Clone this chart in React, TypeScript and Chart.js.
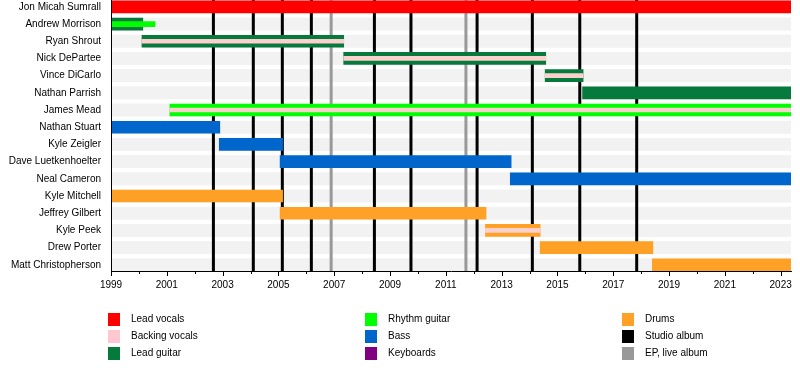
import React, { useEffect, useRef } from 'react';
import { Chart, registerables } from 'chart.js';

Chart.register(...registerables);

const members = [
  'Jon Micah Sumrall',
  'Andrew Morrison',
  'Ryan Shrout',
  'Nick DePartee',
  'Vince DiCarlo',
  'Nathan Parrish',
  'James Mead',
  'Nathan Stuart',
  'Kyle Zeigler',
  'Dave Luetkenhoelter',
  'Neal Cameron',
  'Kyle Mitchell',
  'Jeffrey Gilbert',
  'Kyle Peek',
  'Drew Porter',
  'Matt Christopherson',
];

const START = 1999;
const END = 2023.37;

const yearTicks = [
  1999, 2000, 2001, 2002, 2003, 2004, 2005, 2006, 2007, 2008, 2009, 2010, 2011,
  2012, 2013, 2014, 2015, 2016, 2017, 2018, 2019, 2020, 2021, 2022, 2023,
];

// [member, from, to]
const leadVocals: [string, number, number][] = [['Jon Micah Sumrall', 1999, END]];

const leadGuitar: [string, number, number][] = [
  ['Andrew Morrison', 1999, 2000.14],
  ['Ryan Shrout', 2000.11, 2007.34],
  ['Nick DePartee', 2007.34, 2014.58],
  ['Vince DiCarlo', 2014.56, 2015.92],
  ['Nathan Parrish', 2015.9, END],
];

const rhythmGuitar: [string, number, number][] = [['James Mead', 2001.11, END]];

const rhythmGuitarSecondary: [string, number, number][] = [['Andrew Morrison', 1999, 2000.58]];

const bass: [string, number, number][] = [
  ['Nathan Stuart', 1999, 2002.9],
  ['Kyle Zeigler', 2002.88, 2005.15],
  ['Dave Luetkenhoelter', 2005.06, 2013.34],
  ['Neal Cameron', 2013.31, END],
];

const drums: [string, number, number][] = [
  ['Kyle Mitchell', 1999, 2005.15],
  ['Jeffrey Gilbert', 2005.06, 2012.44],
  ['Kyle Peek', 2012.42, 2014.38],
  ['Drew Porter', 2014.38, 2018.42],
  ['Matt Christopherson', 2018.4, END],
];

const backingVocals: [string, number, number][] = [
  ['Ryan Shrout', 2000.11, 2007.34],
  ['Nick DePartee', 2007.34, 2014.58],
  ['Vince DiCarlo', 2014.56, 2015.92],
  ['James Mead', 2001.11, END],
  ['Kyle Peek', 2012.42, 2014.38],
];

const studioAlbums = [2002.67, 2004.1, 2005.14, 2006.18, 2008.44, 2009.75, 2012.12, 2014.1, 2015.8, 2017.84];
const epLiveAlbums = [2006.89, 2011.72];

const legendLabels = [
  'Lead vocals',
  'Backing vocals',
  'Lead guitar',
  'Rhythm guitar',
  'Bass',
  'Keyboards',
  'Drums',
  'Studio album',
  'EP, live album',
];
const legendColors = [
  '#ff0000',
  '#ffc8d0',
  '#067a3c',
  '#00ff00',
  '#0066cc',
  '#800080',
  '#ffa126',
  '#000000',
  '#999999',
];

const COLORS = {
  leadVocals: '#ff0000',
  backingVocals: '#fcd0cc',
  leadGuitar: '#067a3c',
  rhythmGuitar: '#00ff00',
  bass: '#0066cc',
  drums: '#ffa126',
  studio: '#000000',
  ep: '#999999',
  band: '#f2f2f2',
};

const toData = (periods: [string, number, number][]) =>
  periods.map(([name, from, to]) => ({ y: members.indexOf(name), x: [from, to] }));

const backdropPlugin = {
  id: 'backdrop',
  beforeDatasetsDraw(chart: any) {
    const { ctx, chartArea, scales } = chart;
    const x = scales.x;
    const y = scales.y;
    ctx.save();
    ctx.fillStyle = COLORS.band;
    members.forEach((_, i) => {
      const cy = y.getPixelForValue(i);
      ctx.fillRect(chartArea.left, cy - 6.5, chartArea.right - chartArea.left, 13);
    });
    ctx.lineWidth = 3;
    const drawLine = (v: number, color: string) => {
      const px = x.getPixelForValue(v);
      ctx.strokeStyle = color;
      ctx.beginPath();
      ctx.moveTo(px, chartArea.top);
      ctx.lineTo(px, chartArea.bottom);
      ctx.stroke();
    };
    epLiveAlbums.forEach((v) => drawLine(v, COLORS.ep));
    studioAlbums.forEach((v) => drawLine(v, COLORS.studio));
    ctx.restore();
  },
  afterDraw(chart: any) {
    const { ctx, chartArea, scales } = chart;
    const x = scales.x;
    ctx.save();
    ctx.strokeStyle = '#000';
    ctx.lineWidth = 1;
    yearTicks.forEach((v) => {
      const px = Math.round(x.getPixelForValue(v)) + 0.5;
      const len = v % 2 === 1 ? 5 : 3;
      ctx.beginPath();
      ctx.moveTo(px, chartArea.bottom);
      ctx.lineTo(px, chartArea.bottom + len);
      ctx.stroke();
    });
    // legend
    ctx.font = '10px "Liberation Sans", Arial, sans-serif';
    ctx.textBaseline = 'middle';
    ctx.textAlign = 'left';
    legendLabels.forEach((label, i) => {
      const col = Math.floor(i / 3);
      const row = i % 3;
      const lx = 108 + col * 257;
      const ly = 313 + row * 17;
      ctx.fillStyle = legendColors[i];
      ctx.fillRect(lx, ly, 12, 13);
      ctx.fillStyle = '#000';
      ctx.fillText(label, lx + 23, ly + 6.5);
    });
    ctx.restore();
  },
};

export default function App() {
  const canvasRef = useRef<HTMLCanvasElement | null>(null);

  useEffect(() => {
    if (!canvasRef.current) return;
    Chart.defaults.font.family = '"Liberation Sans", Arial, sans-serif';
    Chart.defaults.font.size = 10;
    Chart.defaults.color = '#000';

    const full = 12;
    const chart = new Chart(canvasRef.current, {
      type: 'bar',
      data: {
        datasets: [
          { label: 'Lead vocals', data: toData(leadVocals) as any, backgroundColor: COLORS.leadVocals, barThickness: full, order: 3 },
          { label: 'Lead guitar', data: toData(leadGuitar) as any, backgroundColor: COLORS.leadGuitar, barThickness: full, order: 3 },
          { label: 'Rhythm guitar', data: toData(rhythmGuitar) as any, backgroundColor: COLORS.rhythmGuitar, barThickness: full, order: 3 },
          { label: 'Bass', data: toData(bass) as any, backgroundColor: COLORS.bass, barThickness: full, order: 3 },
          { label: 'Drums', data: toData(drums) as any, backgroundColor: COLORS.drums, barThickness: full, order: 3 },
          { label: 'Rhythm guitar (2)', data: toData(rhythmGuitarSecondary) as any, backgroundColor: COLORS.rhythmGuitar, barThickness: 5, order: 1 },
          { label: 'Backing vocals', data: toData(backingVocals) as any, backgroundColor: COLORS.backingVocals, barThickness: 4, order: 1 },
        ],
      },
      options: {
        indexAxis: 'y',
        responsive: false,
        animation: false,
        events: [],
        layout: { padding: { left: 0, right: 9, top: 0, bottom: 0 } },
        plugins: { legend: { display: false }, tooltip: { enabled: false } },
        datasets: { bar: { grouped: false, borderWidth: 0, borderSkipped: false } as any },
        scales: {
          x: {
            type: 'linear',
            bounds: 'data',
            offset: false,
            min: START,
            max: END,
            grid: { drawOnChartArea: false, drawTicks: false, offset: false },
            border: { display: true, color: '#000', width: 1, z: 1 },
            ticks: {
              autoSkip: false,
              maxRotation: 0,
              padding: 8,
              color: '#000',
              z: 1,
              font: { size: 10 },
              callback: (v: any) => (Number(v) % 2 === 1 ? String(v) : ''),
            },
            afterBuildTicks: (s: any) => {
              s.ticks = yearTicks.map((v) => ({ value: v }));
            },
            afterFit: (s: any) => {
              s.height = 99;
              s.paddingLeft = 0;
              s.paddingRight = 0;
            },
          },
          y: {
            type: 'linear',
            bounds: 'data',
            offset: false,
            reverse: true,
            min: -0.398,
            max: 15.358,
            grid: { drawOnChartArea: false, drawTicks: false, offset: false },
            border: { display: true, color: '#000', width: 1, z: 1 },
            ticks: {
              autoSkip: false,
              padding: 10,
              color: '#000',
              z: 1,
              font: { size: 10 },
              callback: (v: any) => members[Number(v)] ?? '',
            },
            afterBuildTicks: (s: any) => {
              s.ticks = members.map((_, i) => ({ value: i }));
            },
            afterFit: (s: any) => {
              s.width = 111;
              s.paddingTop = 0;
              s.paddingBottom = 0;
            },
          },
        },
      } as any,
      plugins: [backdropPlugin],
    });
    return () => chart.destroy();
  }, []);

  return (
    <div style={{ position: 'absolute', left: 0, top: 0, width: 800, height: 370, background: '#fff' }}>
      <canvas ref={canvasRef} width={800} height={370} style={{ display: 'block' }} />
    </div>
  );
}
